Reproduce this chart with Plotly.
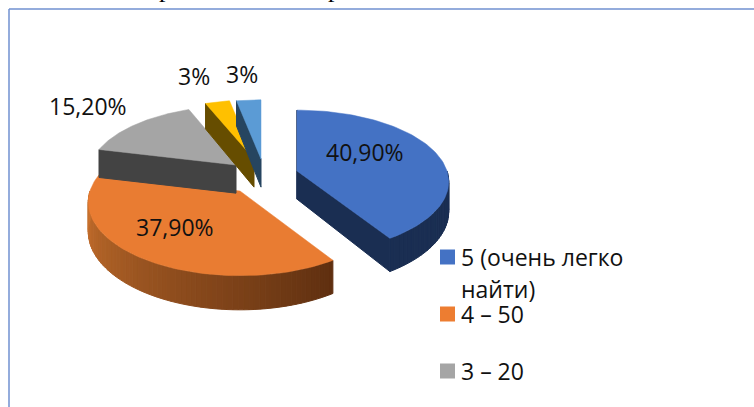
import numpy as np
import plotly.graph_objects as go

# ---- data ----
categories = ["5 (очень легко найти)", "4 – 50", "3 – 20", "2", "1"]
shares = [40.9, 37.9, 15.2, 3.0, 3.0]
value_labels = ["40,90%", "37,90%", "15,20%", "3%", "3%"]
top_colors = ["#4472c4", "#e97c32", "#a5a5a5", "#ffc000", "#5b9bd5"]
side_colors = ["#1a2e52", "#63300f", "#434343", "#664d00", "#264560"]
legend_labels = ["5 (очень легко<br>найти)", "4 – 50", "3 – 20"]
legend_colors = ["#4472c4", "#ed7d31", "#a5a5a5"]

# ---- layout of the exploded, tilted pie (pixels) ----
W, H = 754, 407
apex = [(297, 171), (240, 191), (236, 165), (254, 159), (261, 159)]
radius = [150, 150, 146, 150, 150]
tilt = [70, 72, 68, 68, 68]
P, DEPTH = 0.15, 29
label_pos = [(365, 152), (175, 227), (88, 106), (194, 76), (242, 74)]
legend_x, legend_text_x = 447.5, 459
legend_y = [257, 314, 371]
legend_line_gap = 32

edges = np.concatenate([[0], np.cumsum(shares)]) * 3.6


def project(i, theta_deg, down=0.0):
    t = np.radians(theta_deg)
    X, Y = np.sin(t), -np.cos(t)
    s = 1 / (1 - P * Y)
    cx, cy = apex[i]
    return cx + radius[i] * X * s, cy + tilt[i] * Y * s + down * s


def apex_pt(i, down=0.0):
    return apex[i][0], apex[i][1] + down * 0.97


def poly(xs, ys, color, name, lw=1):
    return go.Scatter(x=list(xs) + [xs[0]], y=list(ys) + [ys[0]], mode="lines", fill="toself",
                      fillcolor=color, line=dict(color=color, width=lw),
                      hoverinfo="text", text=name, showlegend=False)


def top_face(i):
    th = np.linspace(edges[i], edges[i + 1], 90)
    px, py = project(i, th)
    return poly([apex[i][0], *px], [apex[i][1], *py], top_colors[i],
                f"{categories[i]}: {value_labels[i]}", lw=0.5)


def radial_side(i, theta, color=None):
    ox, oy = project(i, theta)
    bx, by = project(i, theta, DEPTH)
    ax, ay = apex_pt(i)
    cx, cy = apex_pt(i, DEPTH)
    return poly([ox, ax, cx, bx], [oy, ay, cy, by], color or side_colors[i], categories[i])


def lerp_hex(a, b, f):
    ca = [int(a[k:k + 2], 16) for k in (1, 3, 5)]
    cb = [int(b[k:k + 2], 16) for k in (1, 3, 5)]
    return "#" + "".join(f"{round(u + (v - u) * f):02x}" for u, v in zip(ca, cb))


def rim(i, t0, t1, c0, c1, n):
    out = []
    th = np.linspace(t0, t1, n + 1)
    for k in range(n):
        seg = np.linspace(th[k], th[k + 1], 4)
        x1, y1 = project(i, seg)
        x2, y2 = project(i, seg[::-1], DEPTH)
        out.append(poly([*x1, *x2], [*y1, *y2], lerp_hex(c0, c1, k / (n - 1)), categories[i]))
    return out


traces = []
# orange slice (its back edge sits under the grey wall)
traces += rim(1, edges[1], 270, "#5f2f10", "#c9722e", 70)
traces.append(top_face(1))
# grey
traces.append(radial_side(2, edges[2]))
traces.append(top_face(2))
# yellow
traces.append(radial_side(3, edges[3]))
traces.append(top_face(3))
# light blue
traces.append(radial_side(4, edges[4]))
traces.append(top_face(4))
# blue
traces.append(radial_side(0, 0))
traces += rim(0, 90, edges[1], side_colors[0], side_colors[0], 30)
traces.append(radial_side(0, edges[1]))
traces.append(top_face(0))
# legend squares
traces.append(go.Scatter(x=[legend_x] * 3, y=legend_y, mode="markers",
                         marker=dict(symbol="square", size=15, color=legend_colors, line=dict(width=0)),
                         hoverinfo="skip", showlegend=False))

fig = go.Figure(traces)

annotations = []
FONT = "Open Sans"
SIZE = 23
for txt, (x, y) in zip(value_labels, label_pos):
    annotations.append(dict(x=x, y=y, xref="x", yref="y", text=txt, showarrow=False,
                            font=dict(family=FONT, size=SIZE, color="#111111")))
for txt, y in zip(legend_labels, legend_y):
    for k, line in enumerate(txt.split("<br>")):
        annotations.append(dict(x=legend_text_x, y=y + k * legend_line_gap, xref="x", yref="y", text=line,
                                showarrow=False, xanchor="left", yanchor="middle", align="left",
                                font=dict(family=FONT, size=SIZE, color="#111111")))
# line of body text cropped by the top edge of the picture
for x in (165, 334):
    annotations.append(dict(x=x, y=5, xref="x", yref="y", text="р", showarrow=False,
                            yanchor="bottom", font=dict(family="Liberation Serif", size=26, color="#000000")))

frame = dict(type="line", xref="x", yref="y", line=dict(color="#7090d0", width=1.5))
fig.update_layout(
    width=W, height=H, margin=dict(l=0, r=0, t=0, b=0),
    paper_bgcolor="white", plot_bgcolor="white", showlegend=False,
    xaxis=dict(range=[0, W], visible=False, fixedrange=True),
    yaxis=dict(range=[H, 0], visible=False, fixedrange=True),
    annotations=annotations,
    shapes=[dict(frame, x0=9, y0=9, x1=W, y1=9), dict(frame, x0=9, y0=9, x1=9, y1=H)],
)
fig.write_html("out.html", config={"displayModeBar": False},
               post_script="document.body.style.margin='0';document.body.style.overflow='hidden';")
